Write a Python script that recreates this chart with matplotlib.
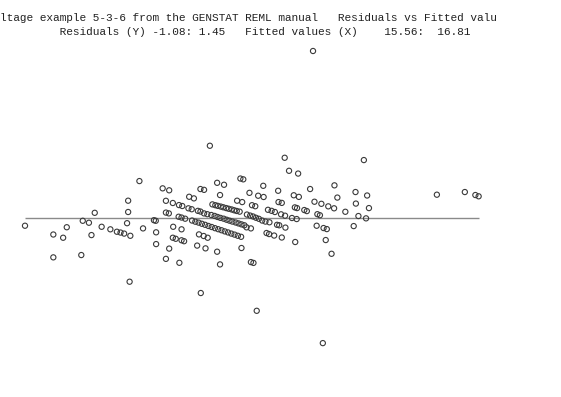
import matplotlib
matplotlib.use("Agg")
import matplotlib.pyplot as plt

# Fitted values (X) and residuals (Y) from the REML fit
fitted = [
    15.560, 15.638, 15.665, 15.675, 15.638, 15.715, 15.719, 15.736, 15.743, 15.752,
    15.771, 15.795, 15.813, 15.823, 15.833, 15.841, 15.844, 15.844, 15.850, 15.848,
    15.875, 15.885, 15.915, 15.920, 15.921, 15.921, 15.939, 15.957, 15.948, 15.967,
    15.984, 15.993, 15.948, 15.956, 15.968, 15.991, 15.957, 15.967, 15.975, 15.991,
    15.998, 15.948, 15.985, 16.012, 16.025, 16.043, 16.053, 16.010, 16.019, 16.036,
    16.043, 16.053, 16.062, 15.983, 15.991, 16.001, 16.039, 16.052, 16.063, 16.034,
    16.057, 16.069, 16.089, 16.108, 16.153, 16.161, 16.097, 16.216, 16.257, 16.178,
    16.202, 16.217, 16.144, 16.158, 16.185, 16.194, 16.258, 16.267, 16.275, 16.287,
    16.312, 16.493, 16.300, 16.314, 16.345, 16.412, 16.420, 16.357, 16.376, 16.395,
    16.411, 16.470, 16.471, 16.502, 16.507, 16.303, 16.309, 16.329, 16.336, 16.442,
    16.229, 16.239, 16.248, 16.265, 16.276, 16.365, 16.372, 16.478, 16.499, 16.295,
    16.308, 16.254, 16.260, 16.277, 16.363, 16.382, 16.391, 16.465, 16.225, 16.232,
    16.246, 16.267, 16.304, 16.388, 16.404, 16.182, 16.189, 16.156, 16.089, 16.097,
    16.170, 16.182, 16.694, 16.771, 16.800, 16.809, 16.044, 16.198, 16.380, 16.353,
    # closely spaced runs of plots
    16.076, 16.084, 16.091, 16.099, 16.106, 16.114, 16.121, 16.129, 16.136, 16.143,
    16.151,
    16.073, 16.082, 16.090, 16.098, 16.107, 16.115, 16.123, 16.131, 16.140, 16.148,
    16.156, 16.164,
    16.020, 16.029, 16.038, 16.047, 16.056, 16.065, 16.074, 16.083, 16.092, 16.101,
    16.110, 16.119, 16.128, 16.137, 16.146, 16.155,
    16.171, 16.180, 16.188, 16.196, 16.204, 16.213, 16.222, 16.233,
]

residuals = [
    -0.064, -0.140, -0.168, -0.077, -0.338, -0.318, -0.021, -0.038, -0.145, 0.048,
    -0.073, -0.095, -0.116, -0.123, -0.132, -0.042, 0.153, 0.055, -0.151, -0.549,
    0.323, -0.087, -0.016, -0.021, -0.121, -0.223, 0.260, 0.243, 0.152, 0.133,
    0.115, 0.107, 0.050, 0.043, -0.073, -0.095, -0.262, -0.168, -0.177, -0.190,
    -0.198, -0.351, -0.385, 0.187, 0.173, 0.254, 0.247, 0.087, 0.079, 0.065,
    0.059, 0.043, 0.036, 0.014, 0.007, -0.003, -0.139, -0.153, -0.168, -0.236,
    -0.260, 0.629, 0.308, 0.291, 0.345, 0.338, 0.202, 0.282, 0.239, 0.221,
    0.196, 0.185, 0.153, 0.141, 0.114, 0.105, 0.141, 0.134, 0.525, 0.412,
    0.388, 0.505, 0.200, 0.186, 0.254, 0.286, 0.180, 0.144, 0.126, 0.104,
    0.087, 0.228, 0.128, 0.198, 0.089, 0.095, 0.089, 0.072, 0.063, 0.057,
    0.074, 0.065, 0.055, 0.035, 0.023, 0.036, 0.027, 0.020, 0.000, 0.003,
    -0.006, -0.056, -0.060, -0.080, -0.064, -0.084, -0.093, -0.067, -0.127, -0.136,
    -0.149, -0.166, -0.205, -0.188, -0.307, -0.379, -0.386, -0.257, -0.289, -0.399,
    -0.078, -0.087, 0.205, 0.228, 0.202, 0.191, -0.647, -0.801, -1.081, 1.450,
    0.121, 0.114, 0.108, 0.102, 0.096, 0.089, 0.083, 0.077, 0.070, 0.064,
    0.058,
    0.029, 0.021, 0.012, 0.004, -0.003, -0.012, -0.020, -0.028, -0.036, -0.044,
    -0.052, -0.060,
    -0.019, -0.029, -0.037, -0.047, -0.056, -0.066, -0.075, -0.085, -0.094, -0.103,
    -0.113, -0.122, -0.132, -0.141, -0.151, -0.160,
    0.033, 0.024, 0.016, 0.005, -0.004, -0.019, -0.028, -0.034,
]

y_range = (-1.08, 1.45)
x_range = (15.56, 16.81)

title_line1 = "ltage example 5-3-6 from the GENSTAT REML manual   Residuals vs Fitted valu"
title_line2 = "         Residuals (Y) -1.08: 1.45   Fitted values (X)    15.56:  16.81"

W, H = 561, 397
fig = plt.figure(figsize=(W / 100, H / 100), dpi=100)
fig.patch.set_facecolor("white")

left, right = 25, 479
top, bottom = 51, 343
ax = fig.add_axes([left / W, 1 - bottom / H, (right - left) / W, (bottom - top) / H])
ax.set_xlim(*x_range)
ax.set_ylim(*y_range)
ax.axis("off")

# zero reference line
ax.plot([x_range[0], x_range[1]], [0, 0], color="#8a8a8a", lw=1.0,
        clip_on=False, solid_capstyle="butt")

ax.scatter(fitted, residuals, s=14, facecolors="none", edgecolors="#3a3a3a",
           linewidths=0.8, clip_on=False, zorder=3)

mono = ["Liberation Mono", "DejaVu Sans Mono"]
fig.text(0 / W, 1 - 21 / H, title_line1, family=mono, fontsize=8,
         color="#222222", ha="left", va="baseline")
fig.text(0 / W, 1 - 35 / H, title_line2, family=mono, fontsize=8,
         color="#222222", ha="left", va="baseline")

fig.savefig("out.png", dpi=100, facecolor="white")
